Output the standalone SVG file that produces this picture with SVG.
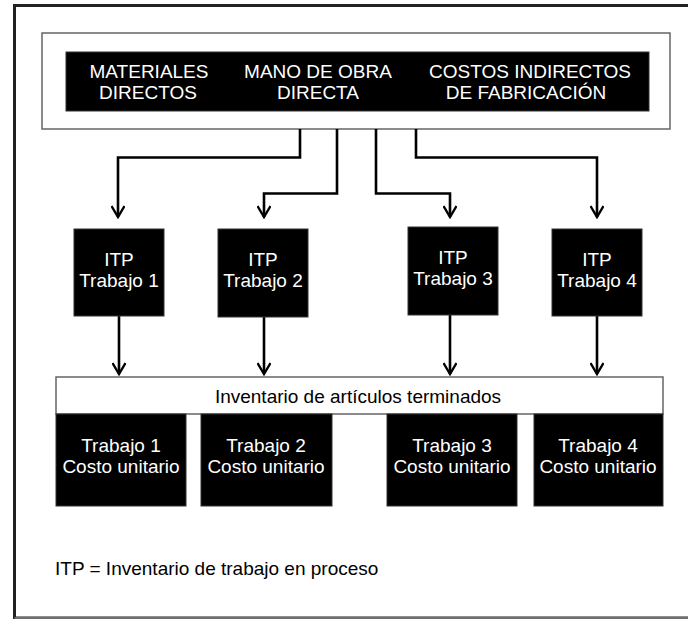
<svg xmlns="http://www.w3.org/2000/svg" width="688" height="619" viewBox="0 0 688 619">
<defs>
<style>
text{font-family:"Liberation Sans",Arial,Helvetica,sans-serif;font-size:19px;text-anchor:middle}
.w{fill:#fff}
.k{fill:#000}
.blk{fill:#000;stroke:#333;stroke-width:1}
.wbox{fill:#fff;stroke:#666;stroke-width:1.5}
.con{fill:none;stroke:#000;stroke-width:2.6}
</style>
<marker id="ah" viewBox="0 0 14 14" refX="12" refY="7" markerWidth="14" markerHeight="14" markerUnits="userSpaceOnUse" orient="auto">
<path d="M1,0.5 L12,7 L1,13.5" fill="none" stroke="#000" stroke-width="2.4"/>
</marker>
</defs>
<rect width="688" height="619" fill="#fff"/>
<g id="frame">
<path d="M690,5.5 H14.5 V618 H690" fill="none" stroke="#222" stroke-width="3"/>
<path d="M14.5,618 H690" fill="none" stroke="#888" stroke-width="1.5"/>
</g>
<g id="costs">
<rect class="wbox" x="42" y="33" width="628" height="96"/>
<rect class="blk" x="66" y="52" width="583" height="59"/>
<text class="w" x="149" y="78">MATERIALES</text>
<text class="w" x="148" y="99">DIRECTOS</text>
<text class="w" x="318" y="78">MANO DE OBRA</text>
<text class="w" x="318" y="99">DIRECTA</text>
<text class="w" x="530" y="78">COSTOS INDIRECTOS</text>
<text class="w" x="526" y="99">DE FABRICACIÓN</text>
</g>
<g id="connectors">
<path class="con" d="M300,129 V157.5 H118 V217" marker-end="url(#ah)"/>
<path class="con" d="M337,129 V193.5 H264 V217" marker-end="url(#ah)"/>
<path class="con" d="M376,129 V193.5 H450 V217" marker-end="url(#ah)"/>
<path class="con" d="M416,129 V157.5 H597 V217" marker-end="url(#ah)"/>
<path class="con" d="M119,316 V374" marker-end="url(#ah)"/>
<path class="con" d="M264,317 V374" marker-end="url(#ah)"/>
<path class="con" d="M450,315 V374" marker-end="url(#ah)"/>
<path class="con" d="M597,316 V374" marker-end="url(#ah)"/>
</g>
<g id="itp1">
<rect class="blk" x="74" y="229" width="90" height="87"/>
<text class="w" x="119" y="266">ITP</text>
<text class="w" x="119" y="287">Trabajo 1</text>
</g>
<g id="itp2">
<rect class="blk" x="218" y="229" width="90" height="88"/>
<text class="w" x="263" y="266">ITP</text>
<text class="w" x="263" y="287">Trabajo 2</text>
</g>
<g id="itp3">
<rect class="blk" x="408" y="227" width="90" height="88"/>
<text class="w" x="453" y="264">ITP</text>
<text class="w" x="453" y="285">Trabajo 3</text>
</g>
<g id="itp4">
<rect class="blk" x="552" y="229" width="90" height="87"/>
<text class="w" x="597" y="266">ITP</text>
<text class="w" x="597" y="287">Trabajo 4</text>
</g>
<g id="inventario">
<rect class="wbox" x="56" y="377" width="607" height="37"/>
<text class="k" x="358" y="403">Inventario de artículos terminados</text>
</g>
<g id="pt1">
<rect class="blk" x="56" y="414" width="130" height="92"/>
<text class="w" x="121" y="452">Trabajo 1</text>
<text class="w" x="121" y="473">Costo unitario</text>
</g>
<g id="pt2">
<rect class="blk" x="201" y="414" width="131" height="92"/>
<text class="w" x="266" y="452">Trabajo 2</text>
<text class="w" x="266" y="473">Costo unitario</text>
</g>
<g id="pt3">
<rect class="blk" x="387" y="414" width="130" height="92"/>
<text class="w" x="452" y="452">Trabajo 3</text>
<text class="w" x="452" y="473">Costo unitario</text>
</g>
<g id="pt4">
<rect class="blk" x="534" y="414" width="129" height="92"/>
<text class="w" x="598" y="452">Trabajo 4</text>
<text class="w" x="598" y="473">Costo unitario</text>
</g>
<g id="leyenda">
<text class="k" x="55" y="575" style="text-anchor:start">ITP = Inventario de trabajo en proceso</text>
</g>
</svg>
